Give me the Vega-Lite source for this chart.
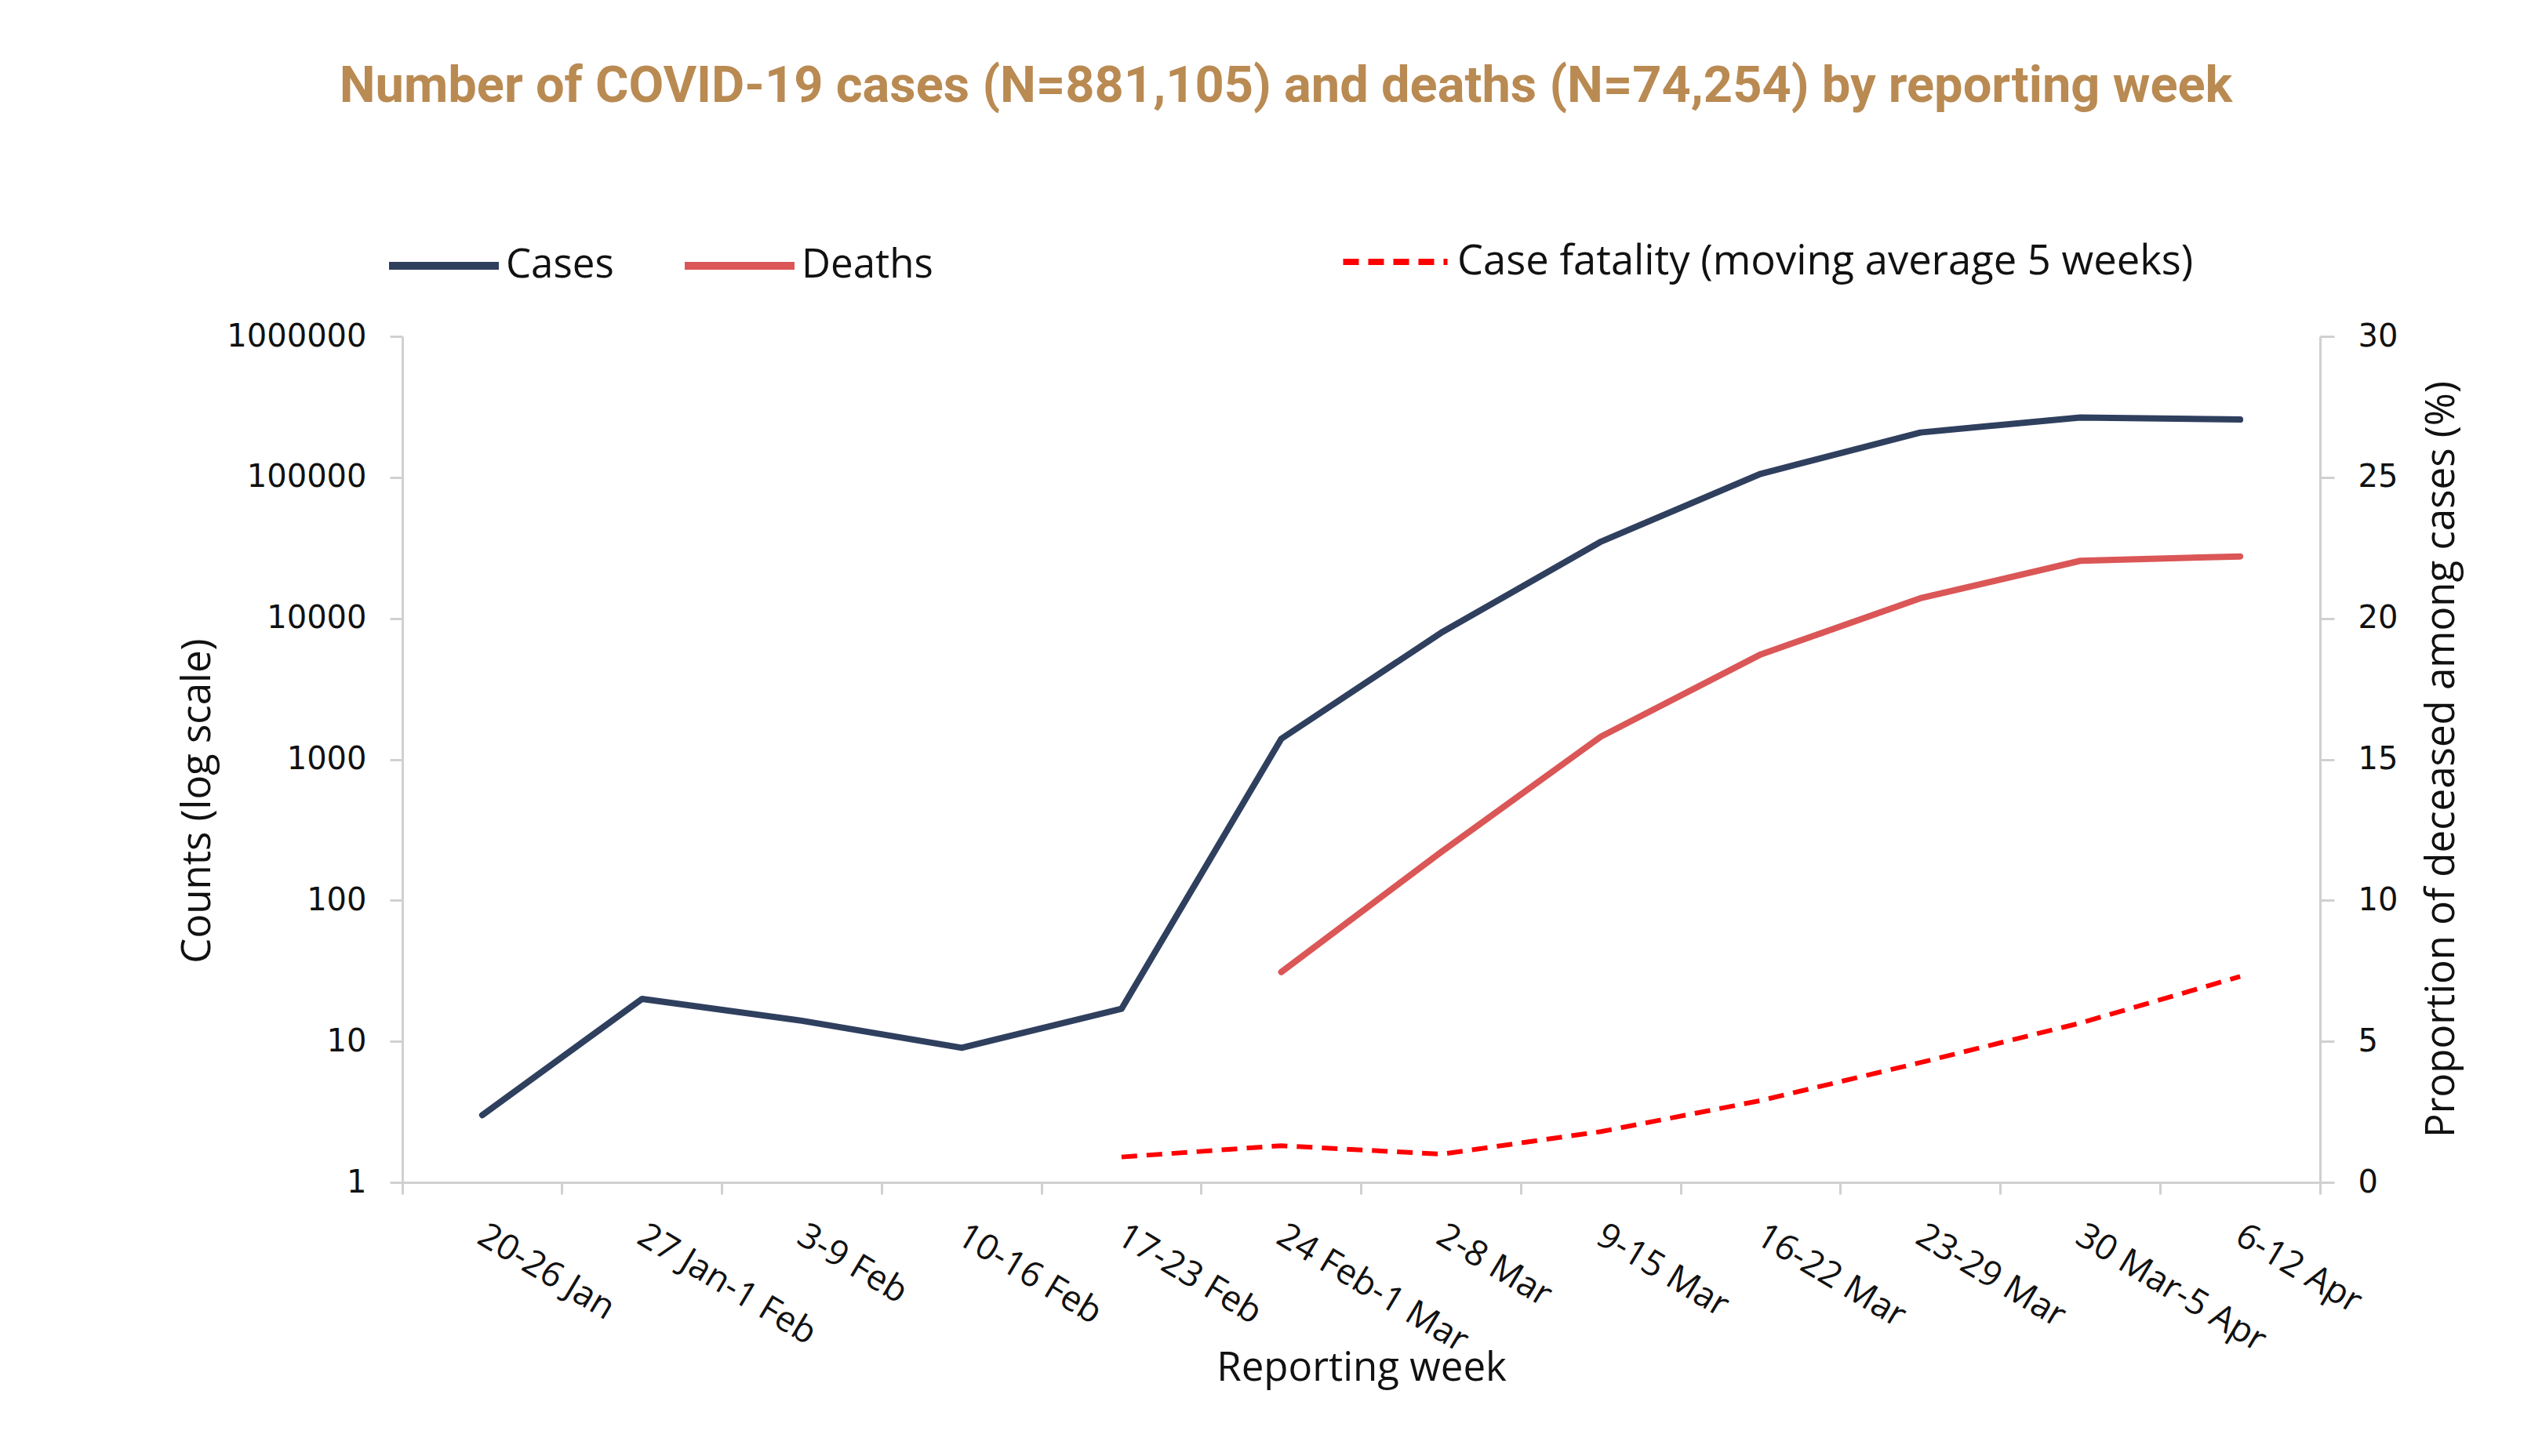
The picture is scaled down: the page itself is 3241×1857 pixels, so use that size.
{
  "$schema": "https://vega.github.io/schema/vega-lite/v6.json",
  "width": 2445,
  "height": 1079,
  "autosize": {"type": "none"},
  "padding": {"left": 513, "top": 429, "right": 283, "bottom": 349},
  "background": "white",
  "config": {
    "view": {"stroke": null},
    "axis": {"grid": false, "domainColor": "#D0D0D0", "domainWidth": 3, "tickColor": "#D0D0D0", "tickWidth": 3, "tickSize": 16, "labelColor": "#111111", "titleColor": "#111111", "titleFontWeight": "normal"},
    "legend": {"padding": 0}
  },
  "title": {
    "text": "Number of COVID-19 cases (N=881,105) and deaths (N=74,254) by reporting week",
    "anchor": "middle",
    "frame": "group",
    "dx": -96,
    "font": "Roboto",
    "fontSize": 65,
    "fontWeight": "bold",
    "color": "#B98A52",
    "offset": 119
  },
  "datasets": {
    "counts": [
      {"week": "20-26 Jan", "series": "Cases", "value": 3},
      {"week": "27 Jan-1 Feb", "series": "Cases", "value": 20},
      {"week": "3-9 Feb", "series": "Cases", "value": 14},
      {"week": "10-16 Feb", "series": "Cases", "value": 9},
      {"week": "17-23 Feb", "series": "Cases", "value": 17},
      {"week": "24 Feb-1 Mar", "series": "Cases", "value": 1400},
      {"week": "2-8 Mar", "series": "Cases", "value": 7900},
      {"week": "9-15 Mar", "series": "Cases", "value": 35000},
      {"week": "16-22 Mar", "series": "Cases", "value": 106000},
      {"week": "23-29 Mar", "series": "Cases", "value": 208000},
      {"week": "30 Mar-5 Apr", "series": "Cases", "value": 266000},
      {"week": "6-12 Apr", "series": "Cases", "value": 257000},
      {"week": "24 Feb-1 Mar", "series": "Deaths", "value": 31},
      {"week": "2-8 Mar", "series": "Deaths", "value": 220},
      {"week": "9-15 Mar", "series": "Deaths", "value": 1450},
      {"week": "16-22 Mar", "series": "Deaths", "value": 5550},
      {"week": "23-29 Mar", "series": "Deaths", "value": 13900},
      {"week": "30 Mar-5 Apr", "series": "Deaths", "value": 25600},
      {"week": "6-12 Apr", "series": "Deaths", "value": 27500}
    ],
    "cfr": [
      {"week": "17-23 Feb", "measure": "Case fatality (moving average 5 weeks)", "cfr": 0.9},
      {"week": "24 Feb-1 Mar", "measure": "Case fatality (moving average 5 weeks)", "cfr": 1.3},
      {"week": "2-8 Mar", "measure": "Case fatality (moving average 5 weeks)", "cfr": 1.0},
      {"week": "9-15 Mar", "measure": "Case fatality (moving average 5 weeks)", "cfr": 1.8},
      {"week": "16-22 Mar", "measure": "Case fatality (moving average 5 weeks)", "cfr": 2.9},
      {"week": "23-29 Mar", "measure": "Case fatality (moving average 5 weeks)", "cfr": 4.25},
      {"week": "30 Mar-5 Apr", "measure": "Case fatality (moving average 5 weeks)", "cfr": 5.65},
      {"week": "6-12 Apr", "measure": "Case fatality (moving average 5 weeks)", "cfr": 7.3}
    ]
  },
  "encoding": {
    "x": {
      "field": "week",
      "type": "nominal",
      "bandPosition": 0.5,
      "scale": {
        "type": "band",
        "paddingInner": 0,
        "paddingOuter": 0,
        "domain": ["20-26 Jan", "27 Jan-1 Feb", "3-9 Feb", "10-16 Feb", "17-23 Feb", "24 Feb-1 Mar", "2-8 Mar", "9-15 Mar", "16-22 Mar", "23-29 Mar", "30 Mar-5 Apr", "6-12 Apr"]
      },
      "axis": {
        "title": "Reporting week",
        "titleFont": "Open Sans",
        "titleFontSize": 51,
        "titleBaseline": "top",
        "titleY": 212,
        "labelFont": "Open Sans",
        "labelFontSize": 45,
        "labelAngle": 31,
        "labelAlign": "left",
        "labelBaseline": "top",
        "labelPadding": 30,
        "labelLimit": 0,
        "labelOffset": 10,
        "tickSize": 15,
        "bandPosition": 1,
        "tickExtra": true
      }
    }
  },
  "layer": [
    {
      "data": {"name": "counts"},
      "mark": {"type": "line", "strokeWidth": 8, "strokeCap": "round", "strokeJoin": "round"},
      "encoding": {
        "y": {
          "field": "value",
          "type": "quantitative",
          "scale": {"type": "log", "domain": [1, 1000000], "nice": false},
          "axis": {
            "title": "Counts (log scale)",
            "orient": "left",
            "values": [1, 10, 100, 1000, 10000, 100000, 1000000],
            "format": "d",
            "labelFont": "DejaVu Sans",
            "labelFontSize": 40,
            "labelPadding": 30,
            "titleFont": "Open Sans",
            "titleFontSize": 51,
            "titleBaseline": "top",
            "titleAngle": -90,
            "titleX": -286,
            "titleY": 592
          }
        },
        "color": {
          "field": "series",
          "type": "nominal",
          "scale": {"domain": ["Cases", "Deaths"], "range": ["#2F3F5E", "#DB5656"]},
          "legend": {
            "title": null,
            "orient": "none",
            "direction": "horizontal",
            "legendX": -22,
            "legendY": -165,
            "symbolType": "stroke",
            "symbolSize": 19600,
            "symbolStrokeWidth": 10,
            "labelFont": "Open Sans",
            "labelFontSize": 51,
            "labelColor": "#111111",
            "labelOffset": 4,
            "labelLimit": 0,
            "columnPadding": 70
          }
        }
      }
    },
    {
      "data": {"name": "cfr"},
      "mark": {"type": "line", "strokeWidth": 6, "color": "#FF0000"},
      "encoding": {
        "y": {
          "field": "cfr",
          "type": "quantitative",
          "scale": {"domain": [0, 30], "nice": false},
          "axis": {
            "title": "Proportion  of deceased among cases (%)",
            "orient": "right",
            "values": [0, 5, 10, 15, 20, 25, 30],
            "labelFont": "DejaVu Sans",
            "labelFontSize": 40,
            "labelPadding": 30,
            "tickSize": 18,
            "titleFont": "Open Sans",
            "titleFontSize": 51,
            "titleAngle": -90,
            "titleBaseline": "top",
            "titleX": 130,
            "titleY": 539
          }
        },
        "strokeDash": {
          "field": "measure",
          "type": "nominal",
          "scale": {"domain": ["Case fatality (moving average 5 weeks)"], "range": [[20, 12]]},
          "legend": {
            "title": null,
            "orient": "none",
            "legendX": 1195,
            "legendY": -166,
            "symbolType": "stroke",
            "symbolSize": 17700,
            "symbolStrokeWidth": 8,
            "symbolStrokeColor": "#FF0000",
            "labelFont": "Open Sans",
            "labelFontSize": 52.5,
            "labelColor": "#111111",
            "labelOffset": 8,
            "labelLimit": 0
          }
        }
      }
    }
  ],
  "resolve": {"scale": {"y": "independent", "color": "independent", "strokeDash": "independent"}}
}
